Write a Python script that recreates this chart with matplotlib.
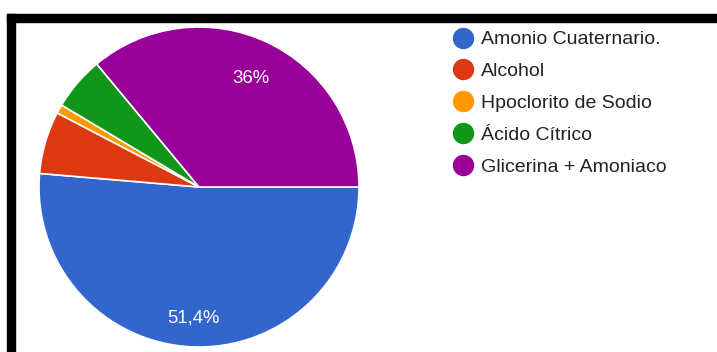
import numpy as np
import matplotlib.pyplot as plt
from matplotlib.lines import Line2D
from matplotlib.patches import Rectangle

# survey answers (number of responses per product)
productos = ["Amonio Cuaternario.", "Alcohol", "Hpoclorito de Sodio",
             "Ácido Cítrico", "Glicerina + Amoniaco"]
respuestas = [57, 7, 1, 6, 40]
colores = ["#3366cc", "#dc3912", "#ff9900", "#109618", "#990099"]

plt.rcParams['font.family'] = ['Liberation Sans', 'DejaVu Sans']

W, H = 717, 352
fig = plt.figure(figsize=(W / 100, H / 100), dpi=100)


def etiqueta(pct):
    # only the big slices get a label, decimal comma like the form export
    if pct < 10:
        return ""
    txt = f"{pct:.1f}".replace(".", ",")
    if txt.endswith(",0"):
        txt = txt[:-2]
    return txt + "%"


# pie occupies a 320px square on the left
ax = fig.add_axes([39 / W, 5 / H, 320 / W, 320 / H])
wedges, texts = ax.pie(
    respuestas, colors=colores, startangle=0, counterclock=False,
    wedgeprops=dict(edgecolor="white", linewidth=1.2))
ax.set_xlim(-1, 1)
ax.set_ylim(-1, 1)

# percentage labels inside the large slices
total = sum(respuestas)
for w, n in zip(wedges, respuestas):
    txt = etiqueta(100 * n / total)
    if not txt:
        continue
    ang = np.deg2rad((w.theta1 + w.theta2) / 2)
    r = 0.81 if np.sin(ang) < 0 else 0.76
    ax.text(r * np.cos(ang), r * np.sin(ang) - 0.01, txt, color="white",
            fontsize=13.3, ha="center", va="center")

# legend with round markers
handles = [Line2D([], [], marker="o", linestyle="none", markersize=14.4,
                  markerfacecolor=c, markeredgecolor=c) for c in colores]
fig.legend(handles, productos, loc="upper left",
           bbox_to_anchor=(444 / W, 1 - 21 / H), frameon=False,
           fontsize=14, labelcolor="#222222", handlelength=1.0,
           handletextpad=0.4, labelspacing=0.73, borderpad=0)

# black frame on the top and left side
fig.patches.append(Rectangle((7 / W, 1 - 22 / H), 1 - 7 / W, 8 / H,
                             transform=fig.transFigure, color="black"))
fig.patches.append(Rectangle((7 / W, 0), 8 / W, 1 - 14 / H,
                             transform=fig.transFigure, color="black"))

fig.savefig("out.png", dpi=100)
